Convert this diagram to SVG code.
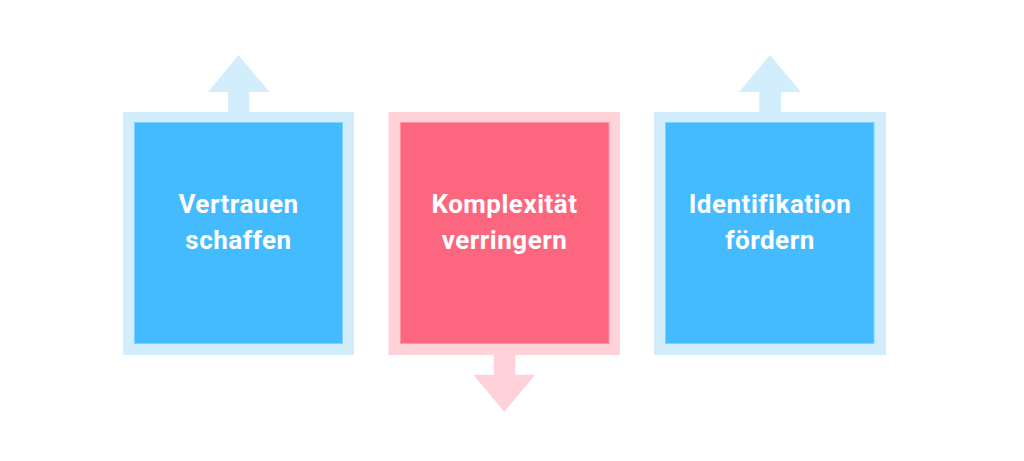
<svg xmlns="http://www.w3.org/2000/svg" width="1024" height="461" viewBox="0 0 1024 461">
<style>
.bo{fill:#D2EEFD}
.bi{fill:#45BBFF;stroke:#7FD0FF;stroke-width:1}
.po{fill:#FFD1D9}
.pi{fill:#FC677F;stroke:#FF93A4;stroke-width:1}
.t{font-family:Roboto,"Liberation Sans",sans-serif;font-weight:700;font-size:26px;letter-spacing:0.5px;fill:#FFFFFF;text-anchor:middle}
</style>
<rect width="1024" height="461" fill="#FFFFFF"/>
<g id="connectors">
<polygon class="bo" points="228,112 228,92 208,92 238.5,55 269.5,92 249.3,92 249.3,112"/>
<polygon class="po" points="493.7,355 493.7,374.7 473.3,374.7 504.3,411.7 535.3,374.7 515.3,374.7 515.3,355"/>
<polygon class="bo" points="759.3,112 759.3,92 739,92 770,55 801,92 781,92 781,112"/>
</g>
<g id="node1">
<rect class="bo" x="123" y="112" width="231" height="243"/>
<rect class="bi" x="134.5" y="122.5" width="208" height="221"/>
<text class="t" x="238.5" y="213">Vertrauen</text>
<text class="t" x="238.5" y="249">schaffen</text>
</g>
<g id="node2">
<rect class="po" x="388.5" y="112" width="231.5" height="243"/>
<rect class="pi" x="400.5" y="122.5" width="208.5" height="221"/>
<text class="t" x="504.5" y="213">Komplexität</text>
<text class="t" x="504.5" y="249">verringern</text>
</g>
<g id="node3">
<rect class="bo" x="654" y="112" width="232" height="243"/>
<rect class="bi" x="665.5" y="122.5" width="208.5" height="221"/>
<text class="t" x="770" y="213">Identifikation</text>
<text class="t" x="770" y="249">fördern</text>
</g>
</svg>
